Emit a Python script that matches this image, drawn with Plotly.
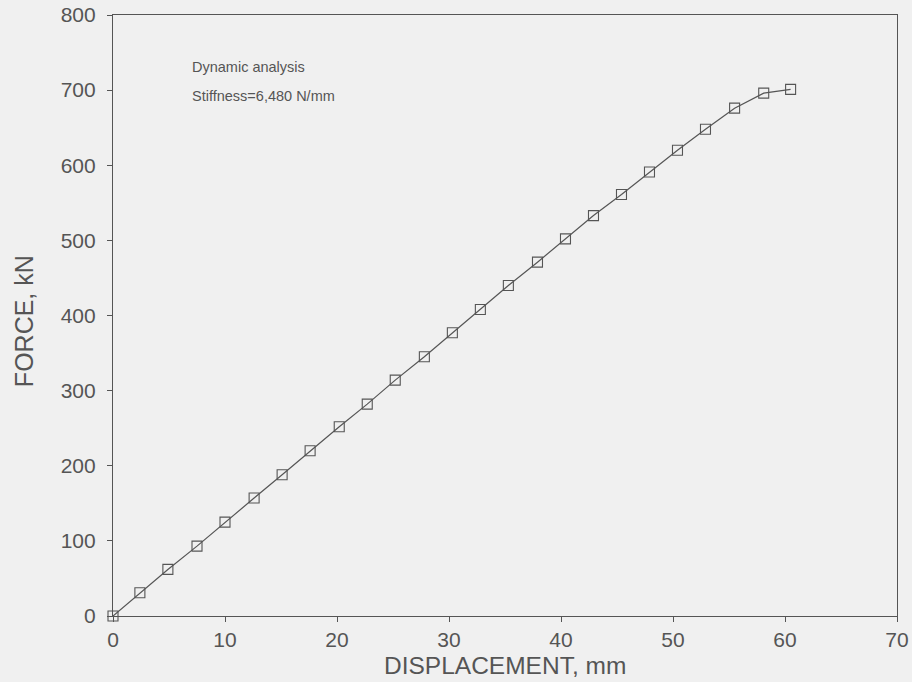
import plotly.graph_objects as go

displacement_mm = [0, 2.4, 4.9, 7.5, 10.0, 12.6, 15.1, 17.6, 20.2, 22.7, 25.2, 27.8,
                   30.3, 32.8, 35.3, 37.9, 40.4, 42.9, 45.4, 47.9, 50.4, 52.9, 55.5, 58.1, 60.5]
force_kN = [0, 31, 62, 93, 125, 157, 188, 220, 252, 282, 314, 345,
            377, 408, 440, 471, 502, 533, 561, 591, 620, 648, 676, 696, 701]

x_ticks = [0, 10, 20, 30, 40, 50, 60, 70]
y_ticks = [0, 100, 200, 300, 400, 500, 600, 700, 800]

x_title = "DISPLACEMENT, mm"
y_title = "FORCE, kN"

ink = "#555555"
bg = "#f0f0f0"
font_family = "Liberation Sans, Arial, sans-serif"

fig = go.Figure()
fig.add_trace(go.Scatter(
    x=displacement_mm, y=force_kN, mode="lines+markers",
    line=dict(color=ink, width=1.2),
    marker=dict(symbol="square-open", size=10, color=ink, line=dict(width=1.1, color=ink)),
    showlegend=False, cliponaxis=False,
))

fig.add_annotation(x=6.9, y=731, xref="x", yref="y", text="Dynamic analysis",
                   showarrow=False, xanchor="left", yanchor="middle",
                   font=dict(size=14.5, color=ink, family=font_family))
fig.add_annotation(x=6.9, y=692, xref="x", yref="y", text="Stiffness=6,480 N/mm",
                   showarrow=False, xanchor="left", yanchor="middle",
                   font=dict(size=14.5, color=ink, family=font_family))

# axis titles as annotations for precise placement
fig.add_annotation(x=0.5, y=-0.083, xref="x domain", yref="y domain", text=x_title,
                   showarrow=False, xanchor="center", yanchor="middle",
                   font=dict(size=24.5, color=ink, family=font_family))
fig.add_annotation(x=-0.114, y=0.49, xref="x domain", yref="y domain", text=y_title,
                   showarrow=False, xanchor="center", yanchor="middle", textangle=-90,
                   font=dict(size=25, color=ink, family=font_family))

axis_common = dict(showgrid=False, zeroline=False, showline=True, linecolor=ink, linewidth=1.2,
                   mirror=True, ticks="outside", ticklen=5, tickcolor=ink, tickwidth=1.2,
                   automargin=False,
                   tickfont=dict(size=21, color=ink, family=font_family))

fig.update_xaxes(range=[0, 70], tickvals=x_ticks, ticktext=[str(v) for v in x_ticks],
                 **axis_common)
fig.update_yaxes(range=[0, 800], tickvals=y_ticks, ticktext=[str(v) for v in y_ticks],
                 ticklabelstandoff=7,
                 **axis_common)

fig.update_layout(
    width=912, height=682,
    margin=dict(l=113, r=15, t=15, b=66, pad=0),
    paper_bgcolor=bg, plot_bgcolor=bg,
    font=dict(family=font_family, color=ink),
)

fig.write_html("out.html", config={"displayModeBar": False},
               post_script="document.body.style.margin='0';document.body.style.overflow='hidden';")
